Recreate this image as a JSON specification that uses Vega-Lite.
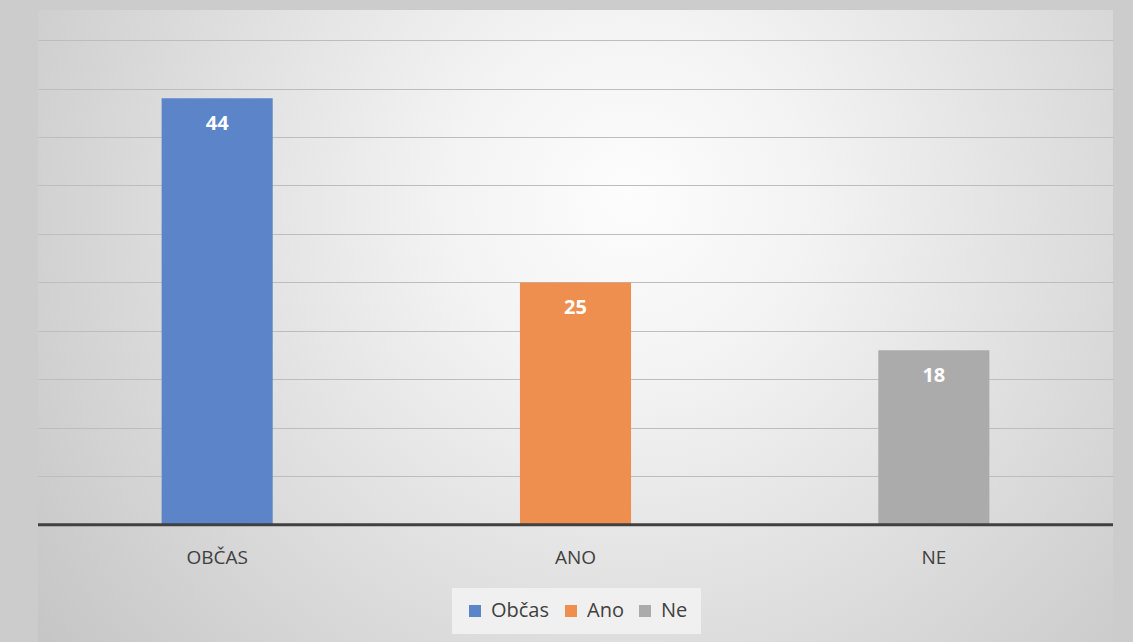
{
  "$schema": "https://vega.github.io/schema/vega-lite/v6.json",
  "width": 1075,
  "height": 632,
  "autosize": {"type": "none"},
  "padding": {"left": 38, "top": 10, "right": 20, "bottom": 0},
  "background": "#cccccc",
  "config": {
    "font": "Open Sans",
    "view": {
      "stroke": null,
      "fill": {
        "gradient": "radial",
        "x1": 0.55, "y1": 0.38, "r1": 0,
        "x2": 0.55, "y2": 0.38, "r2": 0.68,
        "stops": [
          {"offset": 0, "color": "#fdfdfd"},
          {"offset": 0.25, "color": "#f3f3f3"},
          {"offset": 1, "color": "#c6c6c6"}
        ]
      }
    }
  },
  "data": {
    "values": [
      {"kategorie": "OBČAS", "odpoved": "Občas", "pocet": 44},
      {"kategorie": "ANO", "odpoved": "Ano", "pocet": 25},
      {"kategorie": "NE", "odpoved": "Ne", "pocet": 18}
    ]
  },
  "layer": [
    {
      "mark": {"type": "bar"},
      "encoding": {
        "x": {
          "field": "kategorie", "type": "nominal", "sort": null,
          "scale": {"paddingInner": 0.69, "paddingOuter": 0.345},
          "axis": {
            "title": null, "labelAngle": 0, "labelFontSize": 19, "labelColor": "#404040",
            "ticks": false, "domain": false, "labelPadding": 0, "offset": -94
          }
        },
        "y": {
          "field": "pocet", "type": "quantitative",
          "scale": {"domain": [-12.1, 53.1], "nice": false, "zero": false},
          "axis": {
            "values": [5, 10, 15, 20, 25, 30, 35, 40, 45, 50],
            "grid": true, "gridColor": "#bdbdbd", "gridWidth": 1,
            "labels": false, "ticks": false, "domain": false, "title": null
          }
        },
        "y2": {"datum": 0},
        "color": {
          "field": "odpoved", "type": "nominal",
          "sort": ["Občas", "Ano", "Ne"],
          "scale": {"domain": ["Občas", "Ano", "Ne"], "range": ["#5b84c9", "#ee8f4f", "#ababab"]},
          "legend": {
            "orient": "none", "direction": "horizontal", "legendX": 414, "legendY": 578,
            "title": null, "symbolType": "square", "symbolSize": 144, "symbolStrokeWidth": 0,
            "labelFontSize": 20, "labelColor": "#404040", "labelOffset": 6,
            "columnPadding": 11, "padding": 13, "fillColor": "#f0f0f0"
          }
        }
      }
    },
    {
      "mark": {"type": "text", "dy": 26, "fontWeight": "bold", "fontSize": 20, "color": "#ffffff"},
      "encoding": {
        "x": {"field": "kategorie", "type": "nominal", "sort": null},
        "y": {"field": "pocet", "type": "quantitative"},
        "text": {"field": "pocet", "type": "quantitative"}
      }
    },
    {
      "data": {"values": [{"zaklad": 0}]},
      "mark": {"type": "rule", "color": "#404040", "strokeWidth": 3},
      "encoding": {
        "y": {"field": "zaklad", "type": "quantitative"}
      }
    }
  ]
}
